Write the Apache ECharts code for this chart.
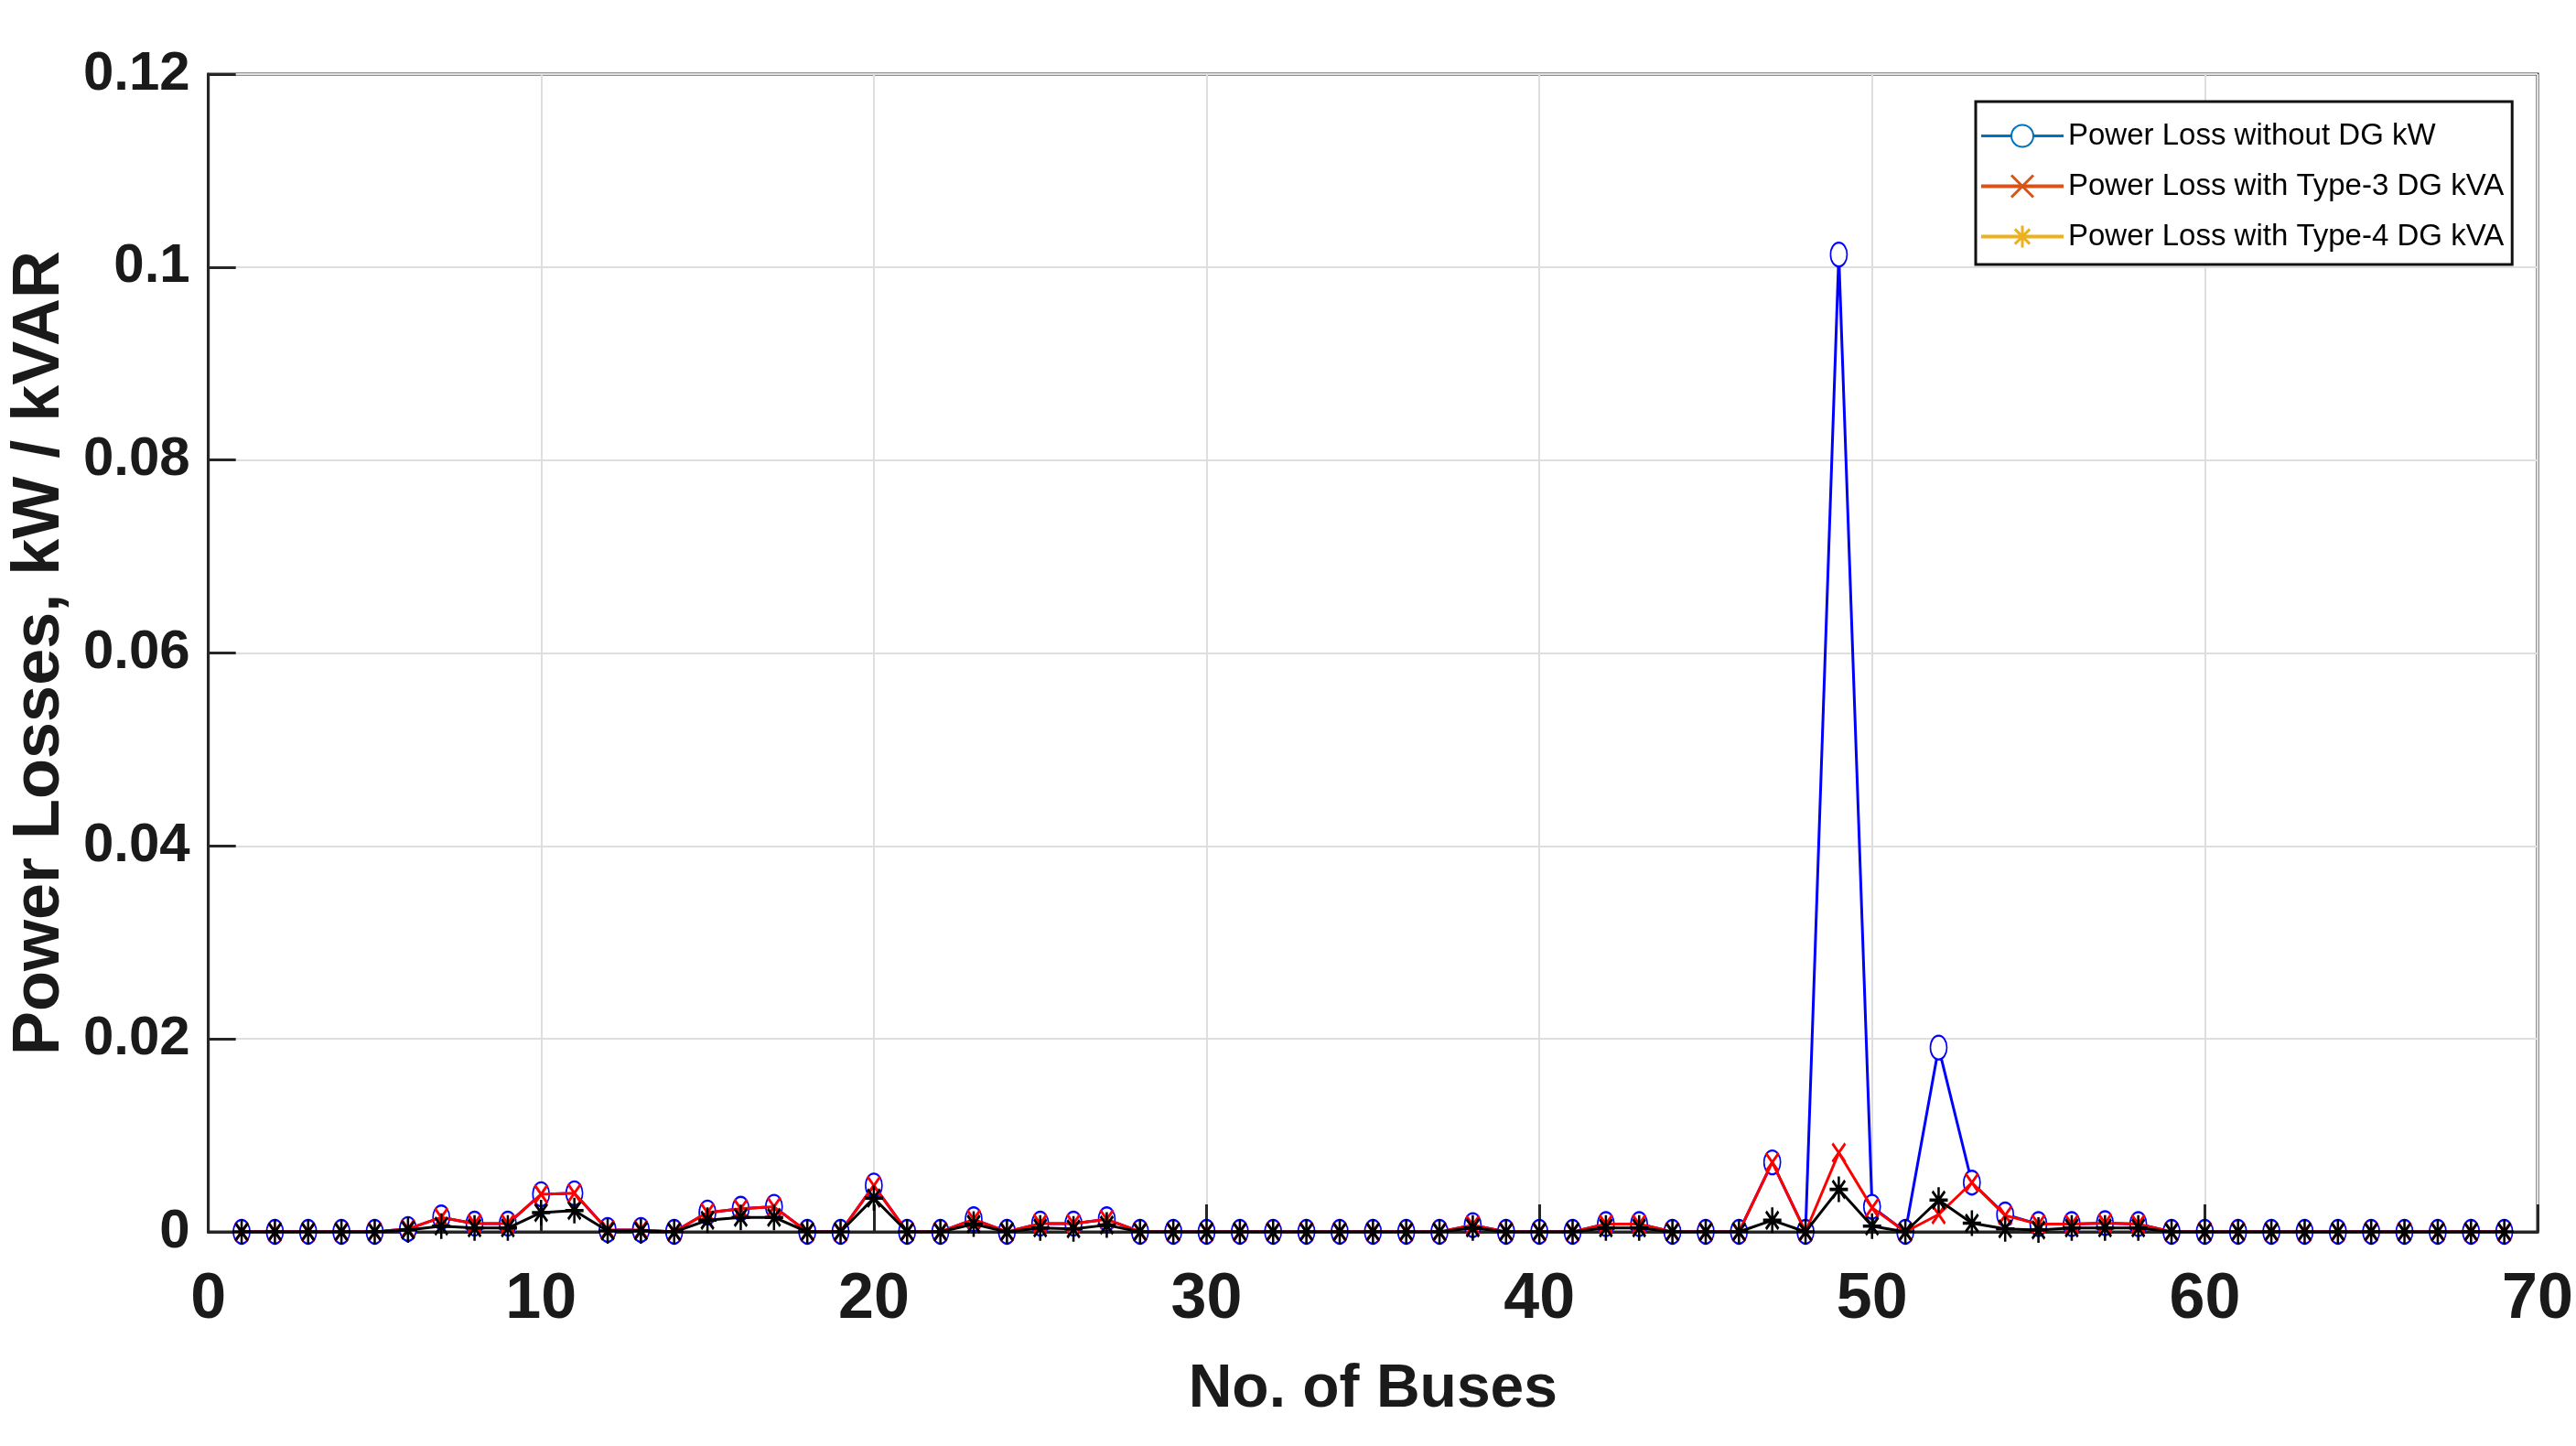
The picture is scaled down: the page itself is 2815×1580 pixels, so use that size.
<!DOCTYPE html>
<html>
<head>
<meta charset="utf-8">
<script src="https://cdn.jsdelivr.net/npm/echarts@6/dist/echarts.min.js"></script>
<style>
html,body{margin:0;padding:0;background:#fff;}
#chart{width:2815px;height:1580px;}
</style>
</head>
<body>
<div id="chart"></div>
<script>
// Bus numbers 1..69
var buses = [1,2,3,4,5,6,7,8,9,10,11,12,13,14,15,16,17,18,19,20,21,22,23,24,25,26,27,28,29,30,31,32,33,34,35,36,37,38,39,40,41,42,43,44,45,46,47,48,49,50,51,52,53,54,55,56,57,58,59,60,61,62,63,64,65,66,67,68,69];

// Power Loss without DG kW
var lossNoDG = [0,0,0,0,0,0.0003,0.0015,0.00085,0.00085,0.0039,0.0040,0.0002,0.0002,0,0.0020,0.0024,0.0026,0,0,0.0048,
  0,0,0.0013,0,0.00085,0.00085,0.0013,0,0,0,0,0,0,0,0,0,0,0.0007,0,0,
  0,0.0008,0.0008,0,0,0,0.0072,0,0.1013,0.0026,0,0.0191,0.0051,0.0018,0.0008,0.0008,0.0009,0.0008,0,0,
  0,0,0,0,0,0,0,0,0];

// Power Loss with Type-3 DG kVA
var lossType3 = [0,0,0,0,0,0.0003,0.0015,0.00085,0.00085,0.0039,0.0040,0.0002,0.0002,0,0.0020,0.0024,0.0026,0,0,0.0048,
  0,0,0.0013,0,0.00085,0.00085,0.0013,0,0,0,0,0,0,0,0,0,0,0.0007,0,0,
  0,0.0008,0.0008,0,0,0,0.0072,0,0.0082,0.0025,0,0.0018,0.0051,0.0017,0.0008,0.0008,0.0009,0.0008,0,0,
  0,0,0,0,0,0,0,0,0];

// Power Loss with Type-4 DG kVA
var lossType4 = [0,0,0,0,0,0.0002,0.0006,0.0004,0.0004,0.0020,0.0022,0.0001,0.0001,0,0.0012,0.0015,0.0015,0,0,0.0035,
  0,0,0.0008,0,0.0004,0.0003,0.0007,0,0,0,0,0,0,0,0,0,0,0.0004,0,0,
  0,0.0004,0.0004,0,0,0,0.0012,0,0.0044,0.0006,0,0.0033,0.0009,0.0003,0.0002,0.0004,0.0004,0.0004,0,0,
  0,0,0,0,0,0,0,0,0];

var seriesNames = ['Power Loss without DG kW','Power Loss with Type-3 DG kVA','Power Loss with Type-4 DG kVA'];

function pairs(vals){ return buses.map(function(b,i){ return [b, vals[i]]; }); }

var FONT = "'Liberation Sans', Arial, Helvetica, sans-serif";
var TXT = '#1a1a1a';
var XSYM = 'path://M0,0L10,10M10,0L0,10';
var STAR = 'path://M5,0L5,10M0,5L10,5M1.6,1.6L8.4,8.4M8.4,1.6L1.6,8.4';

var chart = echarts.init(document.getElementById('chart'), null, {renderer:'canvas'});
chart.setOption({
  backgroundColor:'#ffffff',
  animation:false,
  grid:{left:221,right:42,top:81,bottom:234,show:true,borderColor:'#262626',borderWidth:3},
  legend:{
    orient:'vertical', left:2159, top:111,
    backgroundColor:'#ffffff', borderColor:'#111', borderWidth:3,
    padding:[21,9,14,4],
    itemWidth:90, itemHeight:30, itemGap:22,
    textStyle:{fontFamily:FONT, fontSize:33, color:'#000'},
    data:[
      {name:seriesNames[0], itemStyle:{color:'#0072BD',borderColor:'#0072BD',borderWidth:3}, lineStyle:{color:'#0072BD',width:3}},
      {name:seriesNames[1], itemStyle:{color:'#D95319',borderColor:'#D95319',borderWidth:3}, lineStyle:{color:'#D95319',width:4}},
      {name:seriesNames[2], itemStyle:{color:'#EDB120',borderColor:'#EDB120',borderWidth:3}, lineStyle:{color:'#EDB120',width:4}}
    ]
  },
  xAxis:{
    type:'value', min:0, max:70, interval:10,
    axisLine:{show:true, onZero:false, lineStyle:{color:'#262626',width:3}},
    axisTick:{show:true, inside:true, length:30, lineStyle:{color:'#262626',width:3}},
    axisLabel:{fontFamily:FONT, fontWeight:'bold', fontSize:70, color:TXT, margin:40},
    splitLine:{show:true, lineStyle:{color:'#dedede',width:2}},
    name:'No. of Buses', nameLocation:'middle', nameGap:140,
    nameTextStyle:{fontFamily:FONT, fontWeight:'bold', fontSize:66, color:TXT}
  },
  yAxis:{
    type:'value', min:0, max:0.12, interval:0.02,
    axisLine:{show:true, lineStyle:{color:'#262626',width:3}},
    axisTick:{show:true, inside:true, length:30, lineStyle:{color:'#262626',width:3}},
    axisLabel:{fontFamily:FONT, fontWeight:'bold', fontSize:60, color:TXT, margin:20},
    splitLine:{show:true, lineStyle:{color:'#dedede',width:2}},
    name:'Power Losses, kW / kVAR', nameLocation:'middle', nameGap:130,
    nameTextStyle:{fontFamily:FONT, fontWeight:'bold', fontSize:72, color:TXT}
  },
  series:[
    {name:seriesNames[0], type:'line', data:pairs(lossNoDG), z:2,
     symbol:'emptyCircle', symbolSize:[18,26], showAllSymbol:true,
     lineStyle:{color:'#0000ff',width:3},
     itemStyle:{color:'#0000ff',borderColor:'#0000ff',borderWidth:3}},
    {name:seriesNames[1], type:'line', data:pairs(lossType3), z:3,
     symbol:XSYM, symbolSize:[14,20], showAllSymbol:true,
     lineStyle:{color:'#ff0000',width:3},
     itemStyle:{color:'#ff0000',borderColor:'#ff0000',borderWidth:3}},
    {name:seriesNames[2], type:'line', data:pairs(lossType4), z:4,
     symbol:STAR, symbolSize:[20,28], showAllSymbol:true,
     lineStyle:{color:'#000000',width:3},
     itemStyle:{color:'#000000',borderColor:'#000000',borderWidth:3}}
  ]
});
</script>
</body>
</html>
